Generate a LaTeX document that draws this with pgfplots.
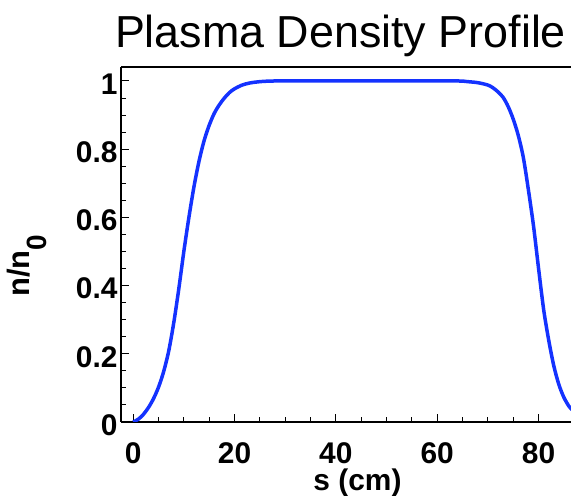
\documentclass[border=0pt]{standalone}
\usepackage{fontspec}
\setmainfont{Liberation Sans}
\usepackage{pgfplots}
\pgfplotsset{compat=1.18}
\definecolor{curveblue}{RGB}{20,50,255}
\pgfplotstableread{
s n
0 0.0
1 0.008
2 0.022
3 0.042
4 0.068
5 0.102
6 0.147
7 0.207
8 0.29
9 0.39
10 0.5
11 0.6
12 0.69
13 0.765
14 0.825
15 0.87
16 0.905
17 0.93
18 0.95
19 0.966
20 0.977
21.5 0.988
23 0.994
25 0.998
28 1.0
35 1.0
45 1.0
55 1.0
64 1.0
66 0.998
68 0.995
70 0.988
71 0.98
72 0.968
73 0.952
74 0.925
75 0.888
76 0.84
77 0.775
78 0.68
79 0.575
80 0.45
81 0.33
82 0.24
83 0.165
84 0.11
85 0.072
86 0.046
86.6 0.036
}\profile
\begin{document}
\begin{tikzpicture}[x=1bp,y=1bp]
\begin{axis}[name=ax, at={(0,0)}, anchor=south west,
  scale only axis, width=450bp, height=355bp,
  xmin=-2.4, xmax=86.4, ymin=0, ymax=1.041,
  axis x line*=box, axis y line*=left,
  xtick={0,20,40,60,80}, ytick={0,0.2,0.4,0.6,0.8,1},
  minor x tick num=3, minor y tick num=3,
  xtick pos=left, ytick pos=left,
  tick align=inside,
  major tick length=8bp, minor tick length=5bp,
  axis line style={line width=1.8bp, black, -},
  every tick/.style={black, line width=1bp},
  /pgf/number format/assume math mode=true,
  tick label style={font=\bfseries\fontsize{30}{36}\selectfont},
  xticklabel style={anchor=base, yshift=-41bp, inner sep=0pt},
  yticklabel style={anchor=east, yshift=-3bp},
  clip=true,
]
\addplot[curveblue, line width=3.5bp, smooth, tension=0.5] table[x=s,y=n] {\profile};
\end{axis}
\node[anchor=base, font=\fontsize{45}{48}\selectfont] at (219.5,374) {Plasma Density Profile};
\node[anchor=base, inner sep=0pt, font=\bfseries\fontsize{30}{34}\selectfont] at (236.5,-69) {s (cm)};
\node[anchor=base west, rotate=90, font=\bfseries\fontsize{31}{36}\selectfont] at (-91,122) {n/n\raisebox{-17bp}{\fontsize{28}{30}\selectfont 0}};
\pgfresetboundingbox
\path[use as bounding box] (-121,-74) rectangle (450,422);
\end{tikzpicture}
\end{document}
